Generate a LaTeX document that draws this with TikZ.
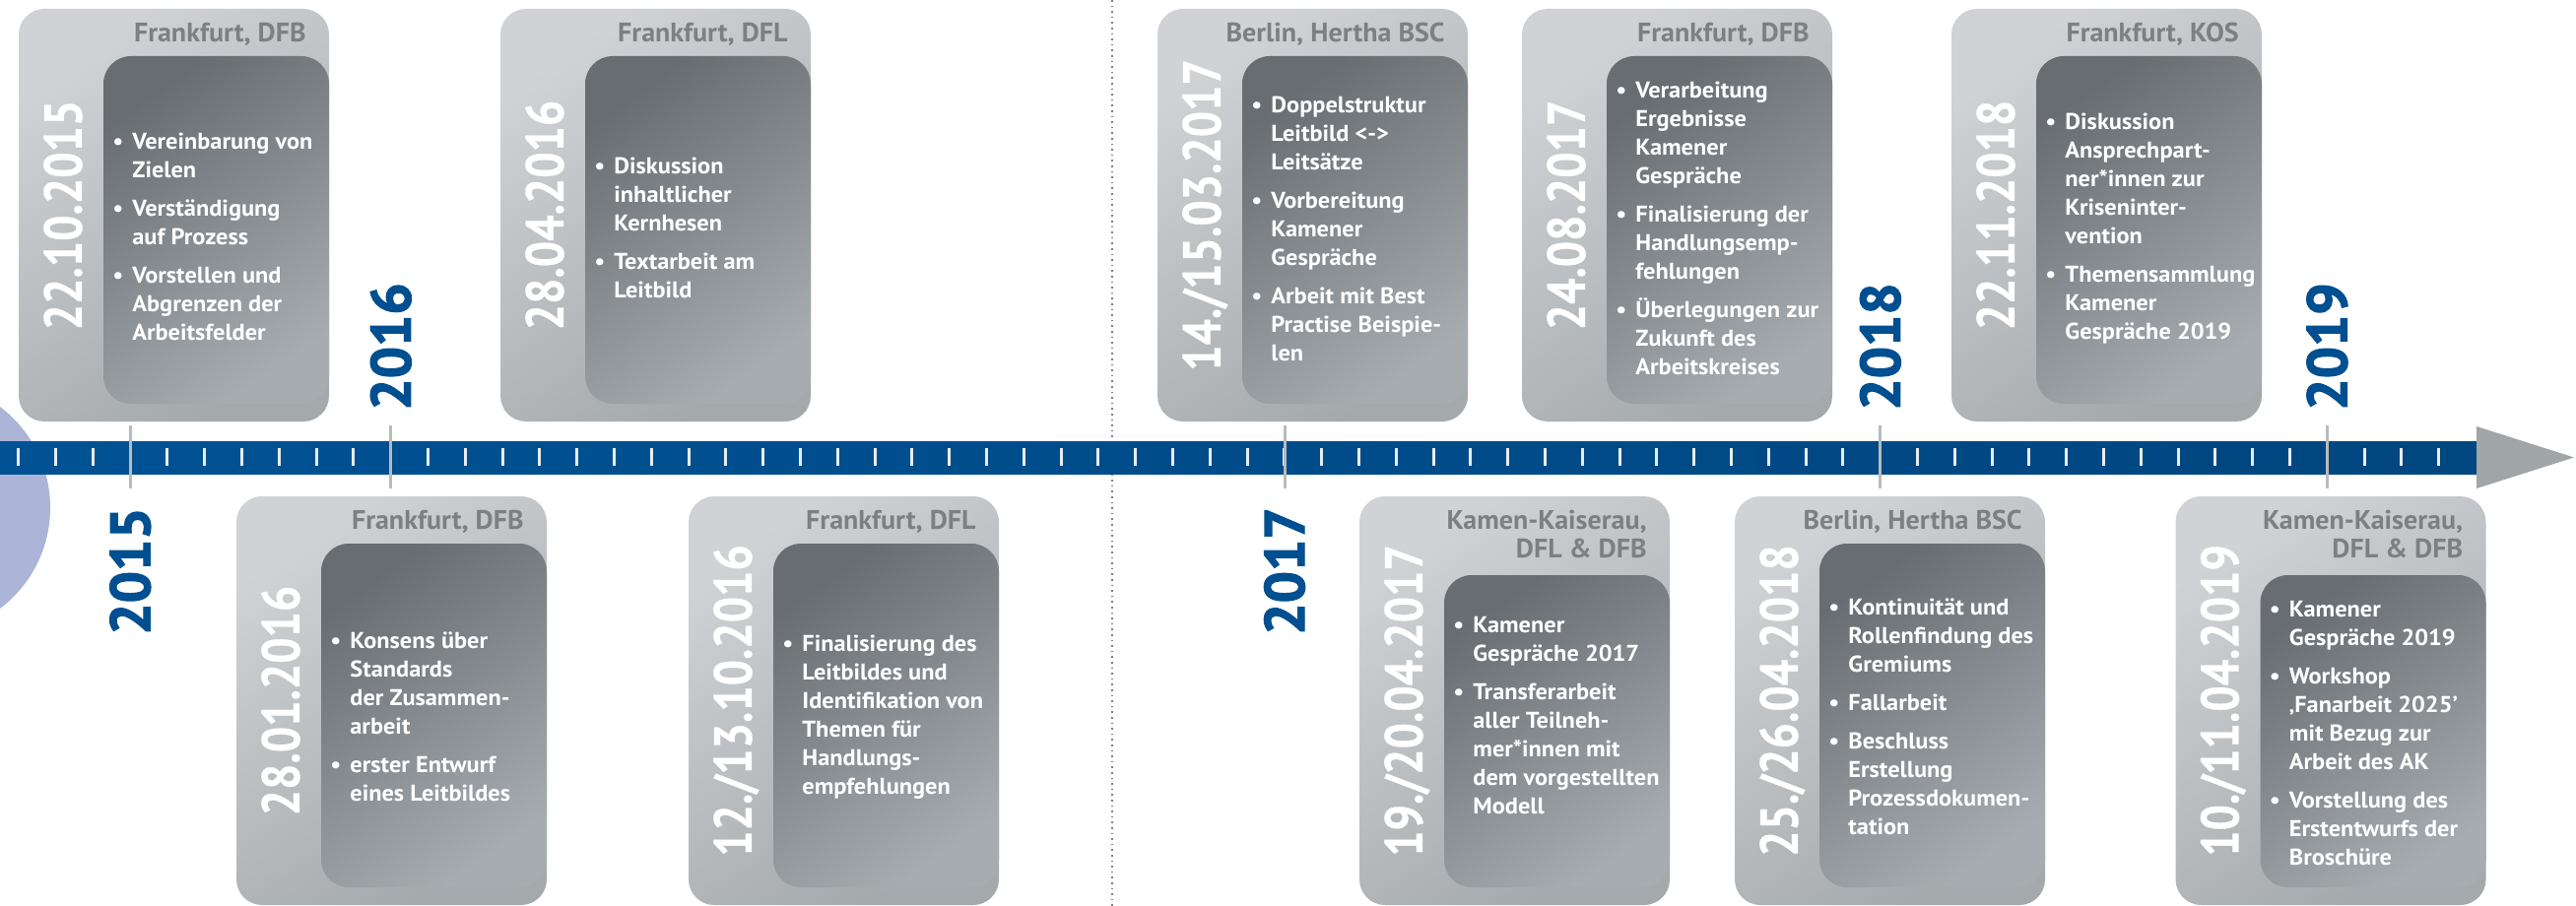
\documentclass[tikz,border=0pt]{standalone}
\usepackage{fontspec}
\setmainfont{PT Sans}
\newfontfamily\datefont[FakeStretch=0.86,BoldFeatures={FakeBold=0.6}]{PT Sans}
\newfontfamily\yrfont[BoldFeatures={FakeBold=2.2}]{PT Sans}
\newfontfamily\bulfont[FakeStretch=1.05]{PT Sans}
\newfontfamily\titfont[FakeStretch=1.03]{PT Sans}
\definecolor{barblue}{RGB}{0,82,148}
\definecolor{bardark}{RGB}{0,70,128}
\definecolor{yearblue}{RGB}{0,79,144}
\definecolor{outerA}{RGB}{208,210,213}
\definecolor{outerB}{RGB}{164,169,172}
\definecolor{innerA}{RGB}{104,109,113}
\definecolor{innerB}{RGB}{166,172,175}
\definecolor{titlegray}{RGB}{125,128,131}
\definecolor{circ}{RGB}{172,180,216}
\definecolor{arrowgray}{RGB}{160,165,168}
\definecolor{markgray}{RGB}{183,187,190}
\definecolor{tickwhite}{RGB}{232,236,240}
\tikzset{
  outershade/.style={rounded corners=13pt, top color=outerA, bottom color=outerB, shading angle=35},
  innershade/.style={rounded corners=14pt, top color=innerA, bottom color=innerB, shading angle=35},
  titletext/.style={inner sep=0pt, text=titlegray, align=right, font=\titfont\fontsize{13.6}{14.5}\selectfont\bfseries},
  datetext/.style={inner sep=0pt, rotate=90, text=white, font=\datefont\fontsize{27}{30}\selectfont\bfseries, text height=18.9pt, text depth=0pt},
  bullettext/.style={inner sep=0pt, text=white, align=left, font=\bulfont\fontsize{11.6}{14.5}\selectfont\bfseries},
  yeartext/.style={inner sep=0pt, rotate=90, text=yearblue, font=\yrfont\fontsize{28.5}{30}\selectfont\bfseries, text height=20pt, text depth=0pt},
  tickline/.style={draw=tickwhite, line width=1.5pt},
  markline/.style={draw=markgray, line width=1.5pt},
}
\newcommand\B{\makebox[10pt][l]{\textbullet}}
\newcommand\I{\hspace*{10pt}}
% #1 name, #2 left x, #3 outer top, #4 inner top, #5 outer bottom, #6 title, #7 date, #8 text centre y, #9 bullets
\newcommand\tlcard[9]{%
  \pgfmathsetmacro\cR{#2+315}%
  \pgfmathsetmacro\cI{#2+86}%
  \pgfmathsetmacro\cIB{#5-18}%
  \pgfmathsetmacro\cM{(#3+#5)/2}%
  \shade[outershade] (#2,#3) rectangle (\cR,#5);
  \shade[innershade] (\cI,#4) rectangle (\cR,\cIB);
  \node[titletext, anchor=north east] (#1-title) at (\cR-23,#3+14) {#6};
  \node[datetext] (#1-date) at (#2+45,\cM) {#7};
  \node[bullettext, anchor=west] (#1-text) at (\cI+9,#8) {#9};
}
\begin{document}
\begin{tikzpicture}[x=0.5pt,y=-0.5pt]
\useasboundingbox (0,0) rectangle (2615,920);
\fill[white] (0,0) rectangle (2615,920);
% background circle and dotted divider
\fill[circ] (-77.5,515.5) circle (128.5);
\draw[gray, dotted, line width=0.8pt] (1129,0) -- (1129,920);
% timeline bar
\shade[left color=barblue, right color=bardark] (0,448) rectangle (2516,481);
\fill[arrowgray] (2514,433) -- (2613,464.5) -- (2514,496) -- cycle;
\foreach \k in {0,...,65} \draw[tickline] ({18.75+37.8*\k},455) -- ({18.75+37.8*\k},473);
\foreach \x in {132.2,396.8,1304,1908.8,2362.4} \draw[markline] (\x,432) -- (\x,496);
% years
\node[yeartext, anchor=east] (y2015) at (132.2,515) {2015};
\node[yeartext, anchor=west] (y2016) at (396.8,417) {2016};
\node[yeartext, anchor=east] (y2017) at (1304,515) {2017};
\node[yeartext, anchor=west] (y2018) at (1908.8,417) {2018};
\node[yeartext, anchor=west] (y2019) at (2362.4,417) {2019};
% top cards
\tlcard{c1}{19}{9}{57}{428}{Frankfurt, DFB}{22.10.2015}{240}{%
\B Vereinbarung von\\\I Zielen\\[5pt]\B Verständigung\\\I auf Prozess\\[5pt]\B Vorstellen und\\\I Abgrenzen der\\\I Arbeitsfelder}
\tlcard{c2}{508}{9}{57}{428}{Frankfurt, DFL}{28.04.2016}{231.5}{%
\B Diskussion\\\I inhaltlicher\\\I Kernhesen\\[5pt]\B Textarbeit am\\\I Leitbild}
\tlcard{c3}{1175}{9}{57}{428}{Berlin, Hertha BSC}{14./15.03.2017}{232.5}{%
\B Doppelstruktur\\\I Leitbild <->\\\I Leitsätze\\[5pt]\B Vorbereitung\\\I Kamener\\\I Gespräche\\[5pt]\B Arbeit mit Best\\\I Practise Beispie-\\\I len}
\tlcard{c4}{1545}{9}{57}{428}{Frankfurt, DFB}{24.08.2017}{232}{%
\B Verarbeitung\\\I Ergebnisse\\\I Kamener\\\I Gespräche\\[5pt]\B Finalisierung der\\\I Handlungsemp-\\\I fehlungen\\[5pt]\B Überlegungen zur\\\I Zukunft des\\\I Arbeitskreises}
\tlcard{c5}{1981}{9}{57}{428}{Frankfurt, KOS}{22.11.2018}{232}{%
\B Diskussion\\\I Ansprechpart-\\\I ner*innen zur\\\I Kriseninter-\\\I vention\\[5pt]\B Themensammlung\\\I Kamener\\\I Gespräche 2019}
% bottom cards
\tlcard{c6}{240}{504}{552}{919}{Frankfurt, DFB}{28.01.2016}{728}{%
\B Konsens über\\\I Standards\\\I der Zusammen-\\\I arbeit\\[5pt]\B erster Entwurf\\\I eines Leitbildes}
\tlcard{c7}{699}{504}{552}{919}{Frankfurt, DFL}{12./13.10.2016}{728.5}{%
\B Finalisierung des\\\I Leitbildes und\\\I Identifikation von\\\I Themen für\\\I Handlungs-\\\I empfehlungen}
\tlcard{c8}{1380}{504}{584}{919}{Kamen-Kaiserau,\\DFL \& DFB}{19./20.04.2017}{727}{%
\B Kamener\\\I Gespräche 2017\\[5pt]\B Transferarbeit\\\I aller Teilneh-\\\I mer*innen mit\\\I dem vorgestellten\\\I Modell}
\tlcard{c9}{1761}{504}{552}{919}{Berlin, Hertha BSC}{25./26.04.2018}{728}{%
\B Kontinuität und\\\I Rollenfindung des\\\I Gremiums\\[5pt]\B Fallarbeit\\[5pt]\B Beschluss\\\I Erstellung\\\I Prozessdokumen-\\\I tation}
\tlcard{c10}{2208.5}{504}{584}{919}{Kamen-Kaiserau,\\DFL \& DFB}{10./11.04.2019}{745}{%
\B Kamener\\\I Gespräche 2019\\[5pt]\B Workshop\\\I ‚Fanarbeit 2025’\\\I mit Bezug zur\\\I Arbeit des AK\\[5pt]\B Vorstellung des\\\I Erstentwurfs der\\\I Broschüre}
\end{tikzpicture}
\end{document}
